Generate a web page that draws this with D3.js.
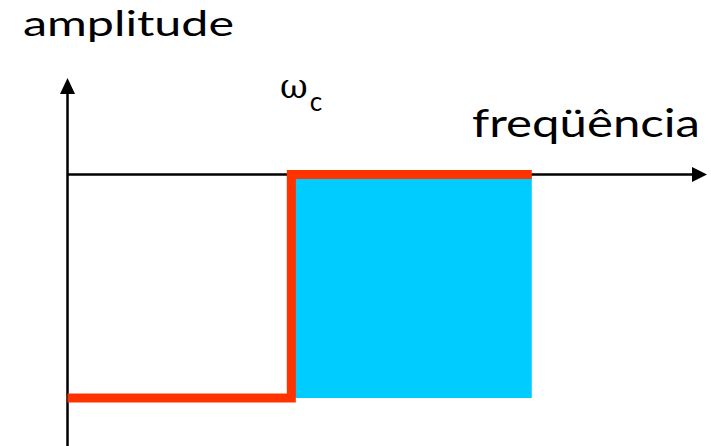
<!DOCTYPE html>
<html lang="pt">
<head>
  <meta charset="UTF-8">
  <title>filtro passa-altas</title>
  <script src="https://d3js.org/d3.v7.min.js"></script>
  <style>
    body { margin: 0; background: #fff; }
    .lbl { font-family: Lato, "Open Sans", sans-serif; font-size: 38px; fill: #000; }
  </style>
</head>
<body>
  <div id="app"></div>
  <script>
    // frequência (0..100 ao longo do eixo) e amplitude (0..1)
    var stepFreq = [0, 35, 72.6];
    var stepAmp = [0, 1, 1];
    var cutoff = 35;      // ωc
    var bandEnd = 72.6;   // fim da faixa passante
    var axisLabels = ["amplitude", "freqüência"];

    var width = 711, height = 446;

    var svg = d3.select("#app").append("svg")
      .attr("width", width)
      .attr("height", height);

    var x = d3.scaleLinear().domain([0, 100]).range([67.5, 707]);
    var y = d3.scaleLinear().domain([0, 1]).range([398, 174.5]);

    // faixa passante (azul)
    svg.append("rect")
      .attr("x", x(cutoff))
      .attr("y", y(1))
      .attr("width", x(bandEnd) - x(cutoff))
      .attr("height", y(0) - y(1))
      .attr("fill", "#00ccff");

    // eixos
    svg.append("line")
      .attr("x1", x(0)).attr("x2", x(100) - 10)
      .attr("y1", y(1)).attr("y2", y(1))
      .attr("stroke", "#000").attr("stroke-width", 2.5);
    svg.append("line")
      .attr("x1", x(0)).attr("x2", x(0))
      .attr("y1", height).attr("y2", 88)
      .attr("stroke", "#000").attr("stroke-width", 2.5);

    // setas
    svg.append("path")
      .attr("d", "M" + x(100) + "," + y(1) + "L" + (x(100) - 15) + "," + (y(1) - 7.5) + "L" + (x(100) - 15) + "," + (y(1) + 7.5) + "Z")
      .attr("fill", "#000");
    svg.append("path")
      .attr("d", "M" + x(0) + ",78L" + (x(0) - 7.5) + ",94L" + (x(0) + 7.5) + ",94Z")
      .attr("fill", "#000");

    // resposta (vermelho)
    var line = d3.line()
      .x(function (d, i) { return x(stepFreq[i]); })
      .y(function (d) { return y(d); })
      .curve(d3.curveStepAfter);
    svg.append("path")
      .attr("d", line(stepAmp))
      .attr("fill", "none")
      .attr("stroke", "#ff3300")
      .attr("stroke-width", 9)
      .attr("stroke-linejoin", "miter");

    // textos
    svg.append("text").attr("class", "lbl")
      .attr("x", 23).attr("y", 36)
      .attr("font-size", 35)
      .style("font-size", "35px")
      .attr("textLength", 211).attr("lengthAdjust", "spacingAndGlyphs")
      .text(axisLabels[0]);
    svg.append("text").attr("class", "lbl")
      .attr("x", 472).attr("y", 137)
      .attr("textLength", 228).attr("lengthAdjust", "spacingAndGlyphs")
      .text(axisLabels[1]);

    var wc = svg.append("text")
      .attr("x", 280).attr("y", 98);
    wc.append("tspan")
      .attr("font-family", "'DejaVu Serif', serif")
      .attr("font-size", 34)
      .text("ω");
    wc.append("tspan")
      .attr("font-family", "Lato, sans-serif")
      .attr("font-size", 26)
      .attr("dx", 2).attr("dy", 13)
      .text("c");
  </script>
</body>
</html>
